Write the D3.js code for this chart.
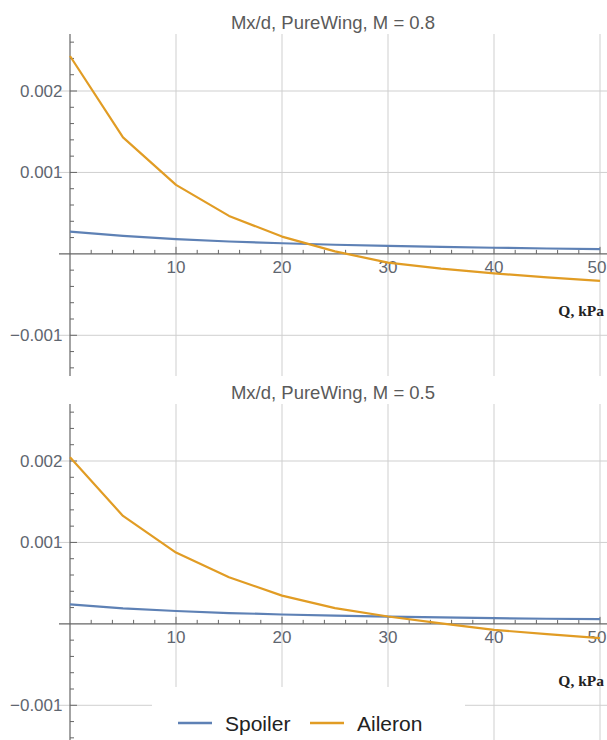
<!DOCTYPE html>
<html>
<head>
<meta charset="utf-8">
<script src="https://cdn.jsdelivr.net/npm/d3@7"></script>
<style>
  html, body { margin: 0; padding: 0; background: #fff; }
  svg { display: block; }
</style>
</head>
<body>
<svg id="chart" width="607" height="740"></svg>
<script>
// ---- data ----
const qValues = [0, 5, 10, 15, 20, 25, 30, 35, 40, 45, 50];
const spoilerM08 = [0.000272, 0.000220, 0.000180, 0.000152, 0.000130, 0.000112, 0.000097, 0.000085, 0.000075, 0.000066, 0.000058];
const aileronM08 = [0.00243, 0.00143, 0.000847, 0.000466, 0.000212, 0.00003, -0.000107, -0.000182, -0.000240, -0.000290, -0.000331];
const spoilerM05 = [0.000240, 0.000190, 0.000158, 0.000133, 0.000115, 0.000101, 0.000090, 0.000080, 0.000070, 0.000063, 0.000057];
const aileronM05 = [0.002045, 0.001325, 0.000875, 0.000573, 0.000347, 0.000193, 0.000090, 0.000005, -0.000074, -0.000126, -0.000175];
const panelTitles = ["Mx/d, PureWing, M = 0.8", "Mx/d, PureWing, M = 0.5"];
const seriesNames = ["Spoiler", "Aileron"];
const seriesColors = ["#5E81B5", "#E19C24"];
const xTickValues = [10, 20, 30, 40, 50];
const yTickValues = [0.002, 0.001, -0.001];
const yTickLabels = ["0.002", "0.001", "\u22120.001"];
const xAxisLabel = "Q, kPa";
const panels = [
  { title: panelTitles[0], series: [spoilerM08, aileronM08] },
  { title: panelTitles[1], series: [spoilerM05, aileronM05] }
];

// ---- layout ----
const svg = d3.select("#chart");
const W = 607;
const x = d3.scaleLinear().domain([0, 50]).range([70, 600]);
const xMin = -1.04;
const panelOffset = 370;
const axisCol = "#666", gridCol = "#cfcfcf", labelCol = "#5f6670";

panels.forEach((p, pi) => {
  const off = pi * panelOffset;
  const y = d3.scaleLinear().domain([-0.0015, 0.0027]).range([off + 376, off + 34]);
  const g = svg.append("g");

  // title
  g.append("text")
    .attr("x", 333).attr("y", off + 22)
    .attr("text-anchor", "middle").attr("dominant-baseline", "central")
    .attr("font-family", "Liberation Sans, Arial, sans-serif")
    .attr("font-size", 18.5).attr("fill", "#5a5a5a")
    .text(p.title);

  // grid lines
  g.selectAll(".vg").data(xTickValues).enter().append("line")
    .attr("x1", d => x(d)).attr("x2", d => x(d))
    .attr("y1", y(0.0027)).attr("y2", y(-0.0015))
    .attr("stroke", gridCol).attr("stroke-width", 1);
  g.selectAll(".hg").data(yTickValues).enter().append("line")
    .attr("x1", x(xMin)).attr("x2", W)
    .attr("y1", d => y(d)).attr("y2", d => y(d))
    .attr("stroke", gridCol).attr("stroke-width", 1);

  // axes lines
  g.append("line").attr("x1", x(xMin)).attr("x2", W)
    .attr("y1", y(0)).attr("y2", y(0)).attr("stroke", axisCol).attr("stroke-width", 1.2);
  g.append("line").attr("x1", x(0)).attr("x2", x(0))
    .attr("y1", y(0.0027)).attr("y2", y(-0.0015)).attr("stroke", axisCol).attr("stroke-width", 1.2);

  // x ticks (minor every 2, major every 10), pointing up
  const xt = d3.range(2, 51, 2);
  g.selectAll(".xt").data(xt).enter().append("line")
    .attr("x1", d => x(d)).attr("x2", d => x(d))
    .attr("y1", y(0)).attr("y2", d => y(0) - (d % 10 === 0 ? 7 : 4))
    .attr("stroke", axisCol).attr("stroke-width", 1);
  // y ticks (minor every 0.0002), pointing right
  const yt = d3.range(-7, 14).map(i => i * 0.0002).filter(v => Math.abs(v) > 1e-9);
  g.selectAll(".yt").data(yt).enter().append("line")
    .attr("x1", x(0)).attr("x2", d => x(0) + (Math.abs(Math.round(d * 10000) % 10) === 0 ? 7 : 4))
    .attr("y1", d => y(d)).attr("y2", d => y(d))
    .attr("stroke", axisCol).attr("stroke-width", 1);

  // tick labels
  g.selectAll(".xl").data(xTickValues).enter().append("text")
    .attr("x", d => Math.min(x(d), W - 10)).attr("y", y(0) + 14)
    .attr("text-anchor", "middle").attr("dominant-baseline", "central")
    .attr("font-family", "Liberation Sans, Arial, sans-serif")
    .attr("font-size", 17).attr("fill", labelCol)
    .text(d => d);
  g.selectAll(".yl").data(yTickValues).enter().append("text")
    .attr("x", 62.5).attr("y", d => y(d))
    .attr("text-anchor", "end").attr("dominant-baseline", "central")
    .attr("font-family", "Liberation Sans, Arial, sans-serif")
    .attr("font-size", 17).attr("fill", labelCol)
    .text((d, i) => yTickLabels[i]);

  // axis label
  g.append("text")
    .attr("x", 604).attr("y", off + 310)
    .attr("text-anchor", "end").attr("dominant-baseline", "central")
    .attr("font-family", "Liberation Serif, Times New Roman, serif")
    .attr("font-weight", "bold")
    .attr("font-size", 15.5).attr("fill", "#222")
    .text(xAxisLabel);

  // series lines
  const line = d3.line().x((d, i) => x(qValues[i])).y(d => y(d));
  p.series.forEach((s, si) => {
    g.append("path").datum(s)
      .attr("d", line)
      .attr("fill", "none")
      .attr("stroke", seriesColors[si])
      .attr("stroke-width", 2.2)
      .attr("stroke-linejoin", "round");
  });
});

// ---- legend ----
const lg = svg.append("g");
lg.append("rect").attr("x", 152).attr("y", 687).attr("width", 313).attr("height", 60).attr("fill", "#fff");
const legendItems = [
  { name: seriesNames[0], color: seriesColors[0], x0: 178, tx: 225 },
  { name: seriesNames[1], color: seriesColors[1], x0: 310, tx: 357 }
];
legendItems.forEach(it => {
  lg.append("line").attr("x1", it.x0).attr("x2", it.x0 + 34)
    .attr("y1", 723).attr("y2", 723)
    .attr("stroke", it.color).attr("stroke-width", 2.5);
  lg.append("text").attr("x", it.tx).attr("y", 723)
    .attr("dominant-baseline", "central")
    .attr("font-family", "Liberation Sans, Arial, sans-serif")
    .attr("font-size", 21).attr("fill", "#222")
    .text(it.name);
});
</script>
</body>
</html>
